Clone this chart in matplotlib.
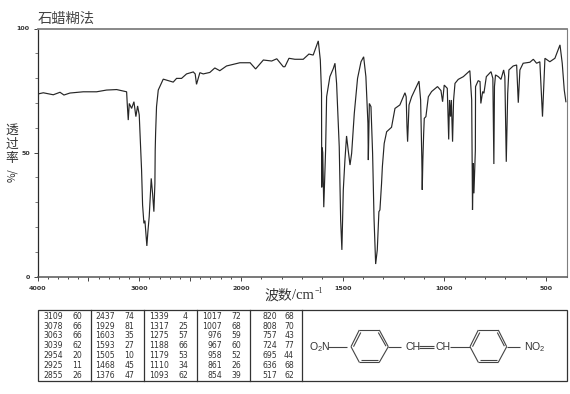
import numpy as np
import matplotlib
matplotlib.use("Agg")
import matplotlib.pyplot as plt
from matplotlib.patches import Rectangle

plt.rcParams['mathtext.fontset'] = 'custom'
plt.rcParams['mathtext.rm'] = 'Liberation Sans'
plt.rcParams['mathtext.default'] = 'rm'

CJK = ['Noto Sans CJK SC', 'DejaVu Sans']
MONO = 'DejaVu Sans'

title = "石蜡糊法"
xlabel_cjk = "波数"
xlabel_unit = "/cm"
xlabel_exp = "−1"
ylabel_chars = "透\n过\n率"
ylabel_unit = "%/"

wn = [3998,3943,3845,3779,3740,3681,3550,3419,3321,3222,3124,3118,3108,3098,3075,3052,3033,3016,3000,2977,
      2967,2954,2944,2934,2925,2915,2902,2895,2882,2869,2856,2846,2843,2839,2830,2813,2764,2666,2633,2584,
      2535,2469,2450,2437,2404,2371,2306,2257,2208,2142,2011,1955,1928,1890,1849,1824,1792,1784,1764,1735,
      1694,1666,1645,1620,1610,1604,1603,1601,1598,1593,1584,1579,1563,1546,1538,1530,1517,1510,1504,1497,
      1489,1481,1473,1464,1456,1443,1427,1410,1397,1386,1376,1374,1369,1361,1353,1346,1338,1330,1322,1317,
      1309,1305,1296,1284,1260,1243,1219,1194,1188,1184,1181,1174,1161,1125,1117,1111,1109,1106,1102,1099,
      1091,1079,1063,1034,1017,1009,1001,986,979,975,970,966,960,955,948,932,907,875,866,862,858,855,848,847,
      834,825,821,812,806,794,771,762,757,754,749,735,722,709,703,696,689,683,662,645,637,629,613,580,563,
      547,531,518,506,482,457,432,421,411,403]
trans = [73.6,74.1,73.3,74.3,73.2,74.0,74.5,74.5,75.2,75.4,74.5,69.8,63.1,69.8,67.8,70.5,64.5,68.8,65.2,43,
         28.9,21.5,22.6,17.5,12.4,18.1,24.2,29.6,39.6,33.6,26.2,37.6,51,57.8,68.5,75.2,79.6,78.4,79.9,79.9,
         81.7,82.5,81.7,77.5,82.2,81.7,82.3,84.1,83,84.9,86.2,86.2,83.7,87.3,86.9,87.8,84.6,84.6,88,87.6,
         87.6,89.7,89.3,95,87.3,73.9,36,52,50,28,51,72.5,80.6,83.9,86,77.9,52.4,22.8,10.8,35,
         47,56.7,51,45,49.7,65.8,79.9,86.6,88.6,80.6,61.8,47,69.8,68.5,49.7,23.5,5.1,10.8,26.2,26.9,
         37.6,44.3,53.7,58.4,60.2,67.8,69.2,74.1,72.5,60.4,54.4,69.2,72.5,78.8,71.2,47,35,47,57.8,63.8,
         64.5,72.5,74.6,76.6,75,70.5,77.2,75.9,55.3,71.2,64.5,71.2,54.4,71.2,77.9,79.5,80.6,83,71.2,26.9,45.7,33.6,51,76.6,
         79,78.6,69.8,74.6,73.9,80.6,82.6,79.9,45.4,76.6,81.3,80.6,79.5,83.3,80.6,46.3,73.9,83.3,84.9,85.3,70.1,83.3,86,86.4,87.6,
         86,86.6,64.5,88,86.6,88,93.4,86,75.2,70.5]

xticks_labeled = [4000, 3000, 2000, 1500, 1000, 500]
xticks_unlabeled = [3500, 2500]
yticks_labeled = [0, 50, 100]

col_wn = [[3109,3078,3063,3039,2954,2925,2855],
          [2437,1929,1603,1593,1505,1468,1376],
          [1339,1317,1275,1188,1179,1110,1093],
          [1017,1007,976,967,958,861,854],
          [820,808,757,724,695,636,517]]
col_t = [[60,66,66,62,20,11,26],
         [74,81,35,27,10,45,47],
         [4,25,57,66,53,34,62],
         [72,68,59,60,52,26,39],
         [68,70,43,77,44,68,62]]


def fwd(w):
    w = np.asarray(w, float)
    return np.where(w > 2000, 2000 + (w - 2000) / 2, w)


def inv(v):
    v = np.asarray(v, float)
    return np.where(v > 2000, 2000 + (v - 2000) * 2, v)


W, H = 570, 394
fig = plt.figure(figsize=(W / 100, H / 100), dpi=100)
INK = '#2a2a2a'
GREY = '#7f7f7f'

L, R, T, B = 37.5, 566.5, 28.5, 276.7
ax = fig.add_axes([L / W, 1 - B / H, (R - L) / W, (B - T) / H])
ax.set_xscale('function', functions=(fwd, inv))
ax.plot(wn, trans, color='#262626', lw=0.85, solid_joinstyle='miter')
ax.set_xlim(4000, 400)
ax.set_ylim(0, 100)

ax.set_xticks(xticks_labeled + xticks_unlabeled)
ax.set_xticklabels([str(v) for v in xticks_labeled] + [''] * len(xticks_unlabeled),
                   fontsize=4.6, fontweight='bold', color='#333333')
ax.set_xticks(np.arange(500, 4000, 100), minor=True)
ax.set_yticks(yticks_labeled)
ax.set_yticklabels([str(v) for v in yticks_labeled], fontsize=4.6, fontweight='bold', color='#333333')
ax.set_yticks(np.arange(10, 100, 10), minor=True)
ax.tick_params(axis='x', which='major', length=3, width=0.7, color='#444444', pad=3.5)
ax.tick_params(axis='x', which='minor', length=1.5, width=0.7, color='#444444')
ax.tick_params(axis='y', which='major', length=3, width=0.7, color='#444444', pad=2.5)
ax.tick_params(axis='y', which='minor', length=2, width=0.6, color='#666666')
ax.spines['top'].set(color=GREY, linewidth=1.3)
ax.spines['right'].set(color=GREY, linewidth=0.8)
ax.spines['left'].set(color=INK, linewidth=0.9)
ax.spines['bottom'].set(color='#555555', linewidth=1.1)

ov = fig.add_axes([0, 0, 1, 1], facecolor='none')
ov.set_xlim(0, W)
ov.set_ylim(H, 0)
ov.axis('off')

ov.text(38, 18.5, title, family=CJK, fontsize=10.3, color='#444444', va='center', ha='left')
ov.text(12, 144.5, ylabel_chars, family=CJK, fontsize=9.2, color='#333333', va='center', ha='center', linespacing=1.1)
ov.text(12, 175, ylabel_unit, family=CJK, fontsize=7.6, color='#333333', va='center', ha='center', rotation=90)
ov.text(264, 295.5, xlabel_cjk, family=CJK, fontsize=10, color='#333333', va='center', ha='left')
ov.text(292.5, 295.5, xlabel_unit, family='Liberation Serif', fontsize=10.5, color='#333333', va='center', ha='left')
ov.text(314.5, 291, xlabel_exp, family='Liberation Serif', fontsize=5.8, color='#333333', va='center', ha='left')

# table frame
ov.add_patch(Rectangle((37.5, 310), 529, 70.7, fill=False, ec='#333333', lw=0.9))
for x in (90.7, 143.5, 196.7, 249.5, 302.3):
    ov.plot([x, x], [310, 380.7], color='#333333', lw=0.9)
row_y = [316.8, 326.2, 335.8, 345.3, 355.6, 365.3, 375.2]
wn_right = [63, 115, 169, 222, 277]
t_right = [82, 134, 188, 241, 294]
for c in range(5):
    for r in range(7):
        ov.text(wn_right[c], row_y[r], str(col_wn[c][r]), family=MONO, fontsize=5.6, color='#333333', ha='right', va='center')
        ov.text(t_right[c], row_y[r], str(col_t[c][r]), family=MONO, fontsize=5.6, color='#333333', ha='right', va='center')

# structural formula
LC = '#444444'
def seg(x0, y0, x1, y1):
    ov.plot([x0, x1], [y0, y1], color=LC, lw=0.8, solid_capstyle='butt')

def ring(xl, xa, xb, xr):
    yt, ym, yb = 330, 346.7, 362.3
    seg(xl, ym, xa, yt); seg(xa, yt, xb, yt); seg(xb, yt, xr, ym)
    seg(xr, ym, xb, yb); seg(xb, yb, xa, yb); seg(xa, yb, xl, ym)
    seg(xl + 2.5, ym, xa + 1.5, yt + 2.5)
    seg(xa + 1.5, yb - 2.2, xb - 1.5, yb - 2.2)
    seg(xb - 1, yt + 2.5, xr - 2.3, ym - .5)

ring(351, 359.3, 379.3, 388.3)
ring(470, 478.3, 498.3, 506.7)
seg(328.3, 347.2, 347, 347.2)
seg(388.3, 347, 401, 347)
seg(418.5, 346, 434, 346)
seg(418.5, 348.2, 434, 348.2)
seg(450, 347, 470, 347)
seg(506.7, 347, 520, 347)
FS = dict(family='Liberation Sans', fontsize=7.6, color='#333333', va='center', ha='left')
ov.text(309, 347.5, "O$_2$N", **FS)
ov.text(405.5, 347, "CH", **FS)
ov.text(435, 347, "CH", **FS)
ov.text(523.5, 347.5, "NO$_2$", **FS)

fig.savefig('out.png', dpi=100, facecolor='white')
